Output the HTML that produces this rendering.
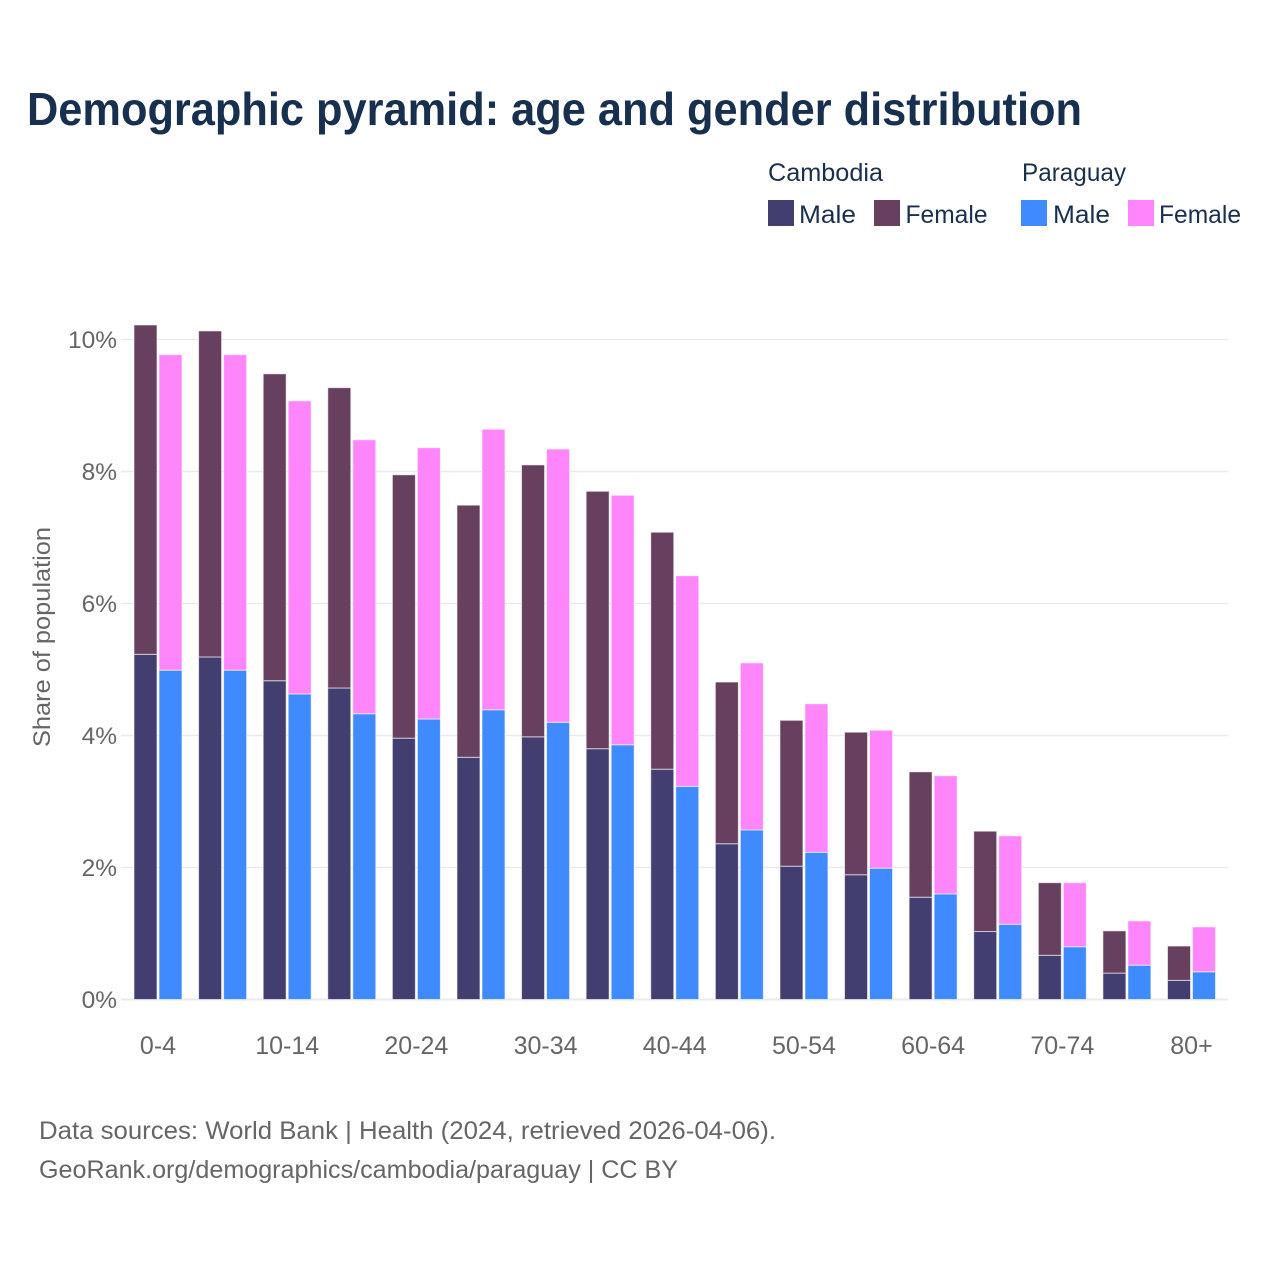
<!DOCTYPE html>
<html lang="en">
<head>
<meta charset="utf-8">
<title>Demographic pyramid</title>
<style>
html,body{margin:0;padding:0;background:#fff;}
svg{display:block;font-family:"Liberation Sans",sans-serif;}
</style>
</head>
<body>
<svg id="chart" width="1280" height="1280" viewBox="0 0 1280 1280" xmlns="http://www.w3.org/2000/svg">
  <rect width="1280" height="1280" fill="#fff"/>
  <text x="27" y="125" font-size="46" font-weight="700" fill="#18304f" textLength="1055" lengthAdjust="spacingAndGlyphs">Demographic pyramid: age and gender distribution</text>

  <g font-size="25" fill="#1a2e50">
    <text x="768" y="181" textLength="115" lengthAdjust="spacingAndGlyphs">Cambodia</text>
    <text x="1022" y="181" textLength="104" lengthAdjust="spacingAndGlyphs">Paraguay</text>
    <rect x="768" y="200" width="26" height="26" fill="#433e70"/>
    <text x="799" y="223" textLength="57" lengthAdjust="spacingAndGlyphs">Male</text>
    <rect x="874" y="200" width="26" height="26" fill="#67405f"/>
    <text x="905.500" y="223" textLength="82" lengthAdjust="spacingAndGlyphs">Female</text>
    <rect x="1021" y="200" width="26" height="26" fill="#3f8aff"/>
    <text x="1053" y="223" textLength="57" lengthAdjust="spacingAndGlyphs">Male</text>
    <rect x="1128" y="200" width="26" height="26" fill="#ff85fa"/>
    <text x="1159" y="223" textLength="82" lengthAdjust="spacingAndGlyphs">Female</text>
  </g>

  <text transform="translate(50,637) rotate(-90)" text-anchor="middle" font-size="24" fill="#666" textLength="220" lengthAdjust="spacingAndGlyphs">Share of population</text>

  <g id="grid"></g>
  <g id="yticks"></g>
  <g id="bars"></g>
  <g id="xticks"></g>

  <g font-size="25" fill="#666">
    <text x="39" y="1139" textLength="737" lengthAdjust="spacingAndGlyphs">Data sources: World Bank | Health (2024, retrieved 2026-04-06).</text>
    <text x="39" y="1178" textLength="639" lengthAdjust="spacingAndGlyphs">GeoRank.org/demographics/cambodia/paraguay | CC BY</text>
  </g>
</svg>
<script>
var categories = ["0-4","5-9","10-14","15-19","20-24","25-29","30-34","35-39","40-44","45-49","50-54","55-59","60-64","65-69","70-74","75-79","80+"];
var xTickLabels = ["0-4","10-14","20-24","30-34","40-44","50-54","60-64","70-74","80+"];
var yTickValues = [0,2,4,6,8,10];
var cambodiaMale = [5.23,5.19,4.83,4.72,3.96,3.67,3.98,3.80,3.49,2.36,2.02,1.89,1.55,1.03,0.67,0.40,0.29];
var cambodiaFemale = [4.99,4.94,4.65,4.55,3.99,3.82,4.12,3.90,3.59,2.45,2.21,2.16,1.90,1.52,1.10,0.64,0.52];
var paraguayMale = [4.99,4.99,4.63,4.33,4.25,4.39,4.20,3.86,3.23,2.57,2.23,1.99,1.60,1.14,0.80,0.52,0.42];
var paraguayFemale = [4.78,4.78,4.44,4.15,4.11,4.25,4.14,3.78,3.19,2.53,2.25,2.09,1.79,1.34,0.97,0.67,0.68];

var NS = "http://www.w3.org/2000/svg";
function yScale(v){ return 999.5 - v * 66; }
function xCenter(i){ return 158 + i * (1033.5 / (categories.length - 1)); }
var barWidth = 23;

function make(tag, parent, attrs){
  var el = document.createElementNS(NS, tag);
  for (var k in attrs) { el.setAttribute(k, attrs[k]); }
  parent.appendChild(el);
  return el;
}

var gridG = document.getElementById("grid");
var yG = document.getElementById("yticks");
yTickValues.forEach(function(v){
  var line = make("line", gridG, {x1:121, x2:1228, y1:yScale(v), y2:yScale(v), stroke:"#e9eaee", "stroke-width": v === 0 ? 2 : 1.5});
  
  
  var t = make("text", yG, {x:117, y:yScale(v)+8.5, "text-anchor":"end", "font-size":24.5, fill:"#666"});
  
  
  t.textContent = v + "%";
});

var barsG = document.getElementById("bars");
function drawBar(x, v0, v1, color, name){
  var r = make("rect", barsG, {x:x, y:yScale(v1), width:barWidth, height:yScale(v0)-yScale(v1), fill:color, stroke:"#fff", "stroke-opacity":0.6, "stroke-width":1});
  
  
}
categories.forEach(function(c, i){
  var cx = xCenter(i);
  var left = cx - barWidth - 1;
  var right = cx + 1;
  drawBar(left, 0, cambodiaMale[i], "#433e70", "bar-cambodia-male-" + c);
  drawBar(left, cambodiaMale[i], cambodiaMale[i] + cambodiaFemale[i], "#67405f", "bar-cambodia-female-" + c);
  drawBar(right, 0, paraguayMale[i], "#3f8aff", "bar-paraguay-male-" + c);
  drawBar(right, paraguayMale[i], paraguayMale[i] + paraguayFemale[i], "#ff85fa", "bar-paraguay-female-" + c);
});

var xG = document.getElementById("xticks");
xTickLabels.forEach(function(label){
  var t = make("text", xG, {x:xCenter(categories.indexOf(label)), y:1054, "text-anchor":"middle", "font-size":25, fill:"#666"});
  
  
  t.textContent = label;
});
</script>
</body>
</html>
